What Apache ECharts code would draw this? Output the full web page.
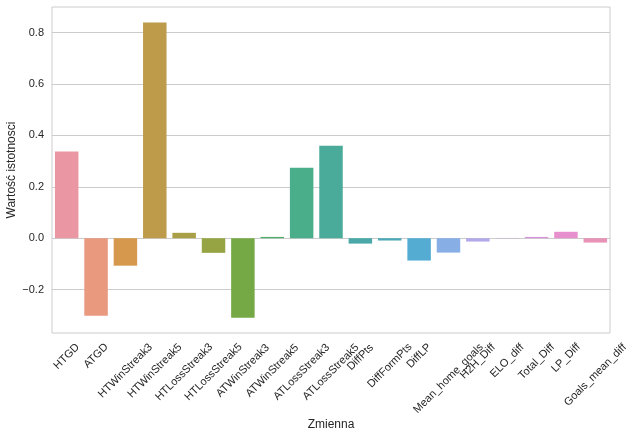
<!DOCTYPE html>
<html><head><meta charset="utf-8">
<script src="https://cdn.jsdelivr.net/npm/echarts@6/dist/echarts.min.js"></script>
<style>html,body{margin:0;padding:0;background:#fff}#c{width:636px;height:437px}</style>
</head><body><div id="c"></div>
<script>
const categories = ['HTGD','ATGD','HTWinStreak3','HTWinStreak5','HTLossStreak3','HTLossStreak5','ATWinStreak3','ATWinStreak5','ATLossStreak3','ATLossStreak5','DiffPts','DiffFormPts','DiffLP','Mean_home_goals','H2H_Diff','ELO_diff','Total_Diff','LP_Diff','Goals_mean_diff'];
const values = [0.338,-0.302,-0.107,0.840,0.021,-0.057,-0.310,0.005,0.274,0.360,-0.021,-0.009,-0.087,-0.056,-0.013,0.001,0.005,0.025,-0.017];
const barColors = ['#ea96a3','#e8997e','#d6984d','#bd9b4a','#a89f46','#96a444','#74a945','#4fac6c','#4aae8a','#4bab9b','#4aa9a8','#4ca8b6','#55acd3','#88aee6','#b2a9ea','#cfa0e8','#dc95dc','#e890cd','#e893b6'];
const yTicks = [-0.2,0,0.2,0.4,0.6,0.8];
const yMin = -0.369, yMax = 0.900;

const FONT = '"Liberation Sans", Arial, sans-serif';
const TXT = '#262626';
const GRID = '#cccccc';
const ctx = document.createElement('canvas').getContext('2d');
ctx.font = '11px ' + FONT;
const xData = categories.map(c => {
  const L = ctx.measureText(c).width;
  const LH = Math.round(0.5 * (L + 13));
  return { value: c, textStyle: { align: 'center', verticalAlign: 'top', lineHeight: LH, padding: [0, LH, 0, 0] } };
});

const chart = echarts.init(document.getElementById('c'), null, { renderer: 'canvas' });
chart.setOption({
  animation: false,
  backgroundColor: '#fff',
  textStyle: { fontFamily: FONT },
  grid: { left: 52, right: 26, top: 7, bottom: 104, show: true, borderColor: GRID, borderWidth: 1, containLabel: false, outerBoundsMode: 'none' },
  xAxis: {
    type: 'category',
    data: xData,
    name: 'Zmienna',
    nameLocation: 'middle',
    nameGap: 86,
    nameMoveOverlap: false,
    nameTextStyle: { color: TXT, fontSize: 12, fontFamily: FONT },
    axisLine: { show: false },
    axisTick: { show: false },
    splitLine: { show: false },
    axisLabel: {
      interval: 0, rotate: 45, align: 'center', verticalAlign: 'top',
      margin: 8, color: TXT, fontSize: 11, fontFamily: FONT, hideOverlap: false
    }
  },
  yAxis: {
    type: 'value',
    min: yMin, max: yMax,
    name: 'Wartość istotnosci',
    nameLocation: 'middle',
    nameGap: 34,
    nameMoveOverlap: false,
    nameTextStyle: { color: TXT, fontSize: 12, fontFamily: FONT },
    axisLine: { show: false },
    axisTick: { show: false, customValues: yTicks },
    splitLine: { show: true, lineStyle: { color: GRID, width: 1 } },
    axisLabel: {
      customValues: yTicks, margin: 8, color: TXT, fontSize: 11, fontFamily: FONT,
      formatter: v => Number(v).toFixed(1).replace('-', '\u2212')
    }
  },
  series: [{
    type: 'bar',
    data: values.map((v, i) => ({ value: v, itemStyle: { color: barColors[i] } })),
    barCategoryGap: '20%'
  }]
});
</script>
</body></html>
